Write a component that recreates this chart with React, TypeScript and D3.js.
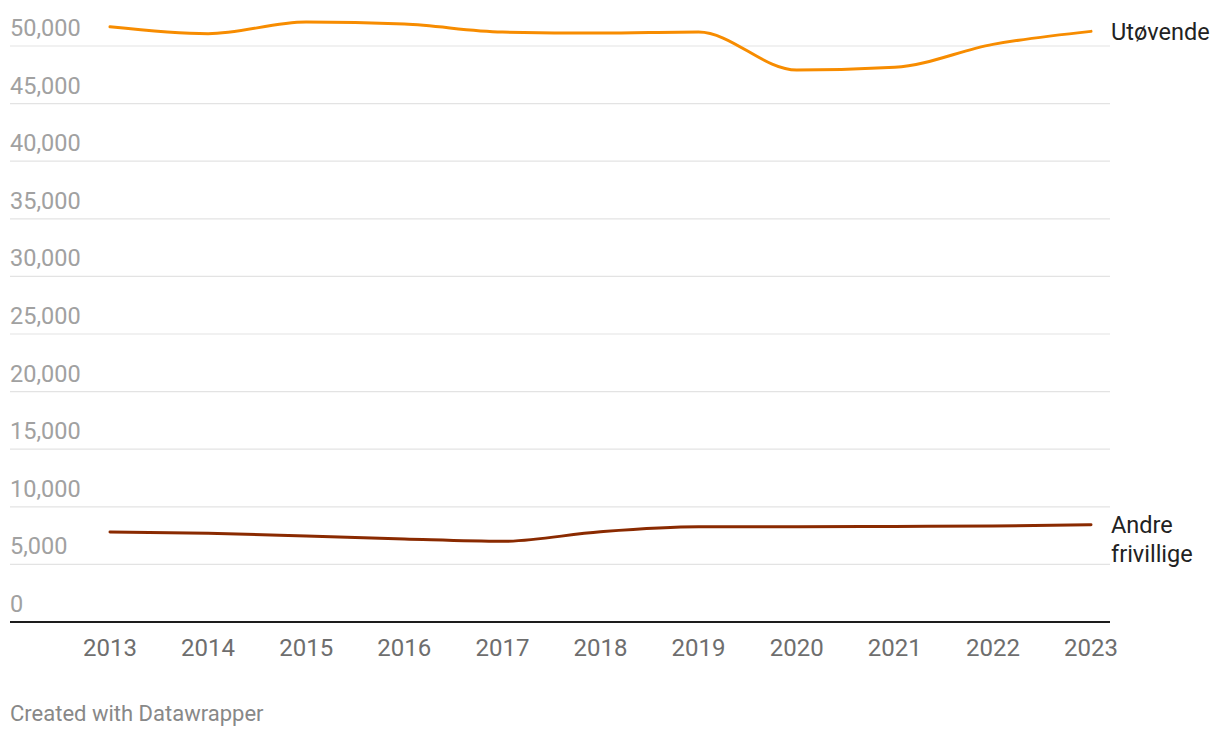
import React from "react";
import * as d3 from "d3";

const years = [2013, 2014, 2015, 2016, 2017, 2018, 2019, 2020, 2021, 2022, 2023];
const utovende = [51670, 51070, 52080, 51900, 51210, 51120, 51210, 47910, 48150, 50140, 51270];
const andreFrivillige = [7810, 7700, 7460, 7200, 7000, 7840, 8270, 8270, 8300, 8330, 8440];
const yTicks = [0, 5000, 10000, 15000, 20000, 25000, 30000, 35000, 40000, 45000, 50000];

const W = 1220;
const H = 738;

export default function App() {
  const x = d3.scaleLinear().domain([2013, 2023]).range([110, 1091]);
  const y = d3.scaleLinear().domain([0, 50000]).range([622, 46]);
  const fmt = d3.format(",");
  const line = d3
    .line<number>()
    .x((_, i) => x(years[i]))
    .y((d) => y(d))
    .curve(d3.curveMonotoneX);

  const font = "Roboto, 'Noto Sans', sans-serif";

  return (
    <svg
      width={W}
      height={H}
      style={{ position: "absolute", left: 0, top: 0, background: "#fff" }}
      fontFamily={font}
    >
      {yTicks.map((t) => (
        <g key={t}>
          {t > 0 && (
            <line x1={10} x2={1110} y1={y(t)} y2={y(t)} stroke="#e3e3e3" strokeWidth={1.2} />
          )}
          <text x={10} y={y(t) - 10} fontSize={23.5} fill="#a1a1a1">
            {fmt(t)}
          </text>
        </g>
      ))}
      <line x1={10} x2={1110} y1={y(0)} y2={y(0)} stroke="#1d1d1d" strokeWidth={2} />
      {years.map((yr) => (
        <text key={yr} x={x(yr)} y={656} fontSize={24} fill="#6e6e6e" textAnchor="middle">
          {yr}
        </text>
      ))}
      <path d={line(utovende) || ""} fill="none" stroke="#f78c00" strokeWidth={3} strokeLinecap="round" />
      <path d={line(andreFrivillige) || ""} fill="none" stroke="#8a2a00" strokeWidth={3} strokeLinecap="round" />
      <text x={1111} y={40} fontSize={23.5} fill="#222">
        Utøvende
      </text>
      <text x={1111} y={533} fontSize={23.5} fill="#222">
        Andre
      </text>
      <text x={1111} y={562} fontSize={23.5} fill="#222">
        frivillige
      </text>
      <text x={10} y={721} fontSize={22} fill="#888">
        Created with Datawrapper
      </text>
    </svg>
  );
}
